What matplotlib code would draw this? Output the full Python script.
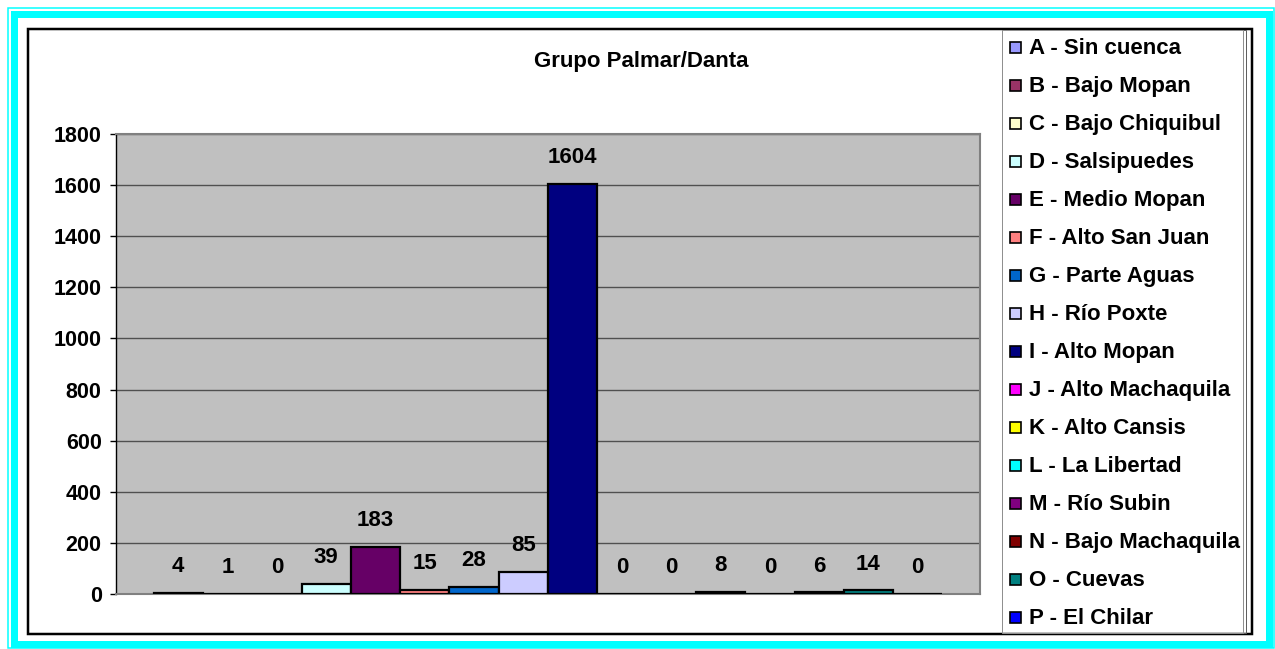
import matplotlib
matplotlib.use("Agg")
import matplotlib.pyplot as plt
from matplotlib.patches import Rectangle

plt.rcParams['font.family'] = ['Liberation Sans', 'DejaVu Sans']

# Data
title = "Grupo Palmar/Danta"
series_names = [
    "A - Sin cuenca", "B - Bajo Mopan", "C - Bajo Chiquibul", "D - Salsipuedes",
    "E - Medio Mopan", "F - Alto San Juan", "G - Parte Aguas", "H - Río Poxte",
    "I - Alto Mopan", "J - Alto Machaquila", "K - Alto Cansis", "L - La Libertad",
    "M - Río Subin", "N - Bajo Machaquila", "O - Cuevas", "P - El Chilar",
]
values = [4, 1, 0, 39, 183, 15, 28, 85, 1604, 0, 0, 8, 0, 6, 14, 0]
colors = [
    "#9999FF", "#993366", "#FFFFCC", "#CCFFFF", "#660066", "#FF8080",
    "#0066CC", "#CCCCFF", "#000080", "#FF00FF", "#FFFF00", "#00FFFF",
    "#800080", "#800000", "#008080", "#0000FF",
]
y_ticks = list(range(0, 1801, 200))

W, H = 1275, 649
fig = plt.figure(figsize=(W / 100, H / 100), dpi=100)
fig.patch.set_facecolor("white")


def fx(px):
    return px / W


def fy(py):
    return 1 - py / H


def frame(x0, y0, x1, y1, color, lw_px, z=0):
    r = Rectangle((fx(x0), fy(y1)), fx(x1) - fx(x0), fy(y0) - fy(y1),
                  transform=fig.transFigure, fill=False, edgecolor=color,
                  linewidth=lw_px * 0.72, zorder=z)
    fig.patches.append(r)


# Decorative page border and chart-area frame
frame(7.5, 7.5, 1273.5, 647.5, "#00FFFF", 1.5)
frame(13.5, 13.5, 1268.5, 643.5, "#00FFFF", 7)
frame(27.5, 28.5, 1251.5, 633.5, "black", 2.5)

# Legend frame
frame(1002, 29.5, 1246, 633, "#606060", 1)
frame(1002, 29.5, 1243, 633, "#909090", 1)

# Plot area
left, right, top, bottom = 116, 980, 134, 594
ax = fig.add_axes([fx(left), fy(bottom), fx(right) - fx(left), fy(top) - fy(bottom)])
ax.set_facecolor("#C0C0C0")

n = len(values)
bar_w = 49.3 / (right - left)
xs = [(i - (n - 1) / 2) * bar_w for i in range(n)]
ax.bar(xs, values, width=bar_w, color=colors, edgecolor="black",
       linewidth=1.6, zorder=3)

for x, v in zip(xs, values):
    ax.annotate(str(v), (x, v), xytext=(0, 19), textcoords="offset points",
                ha="center", va="center", fontsize=16, fontweight="bold",
                zorder=5)

ax.set_xlim(-0.5, 0.5)
ax.set_ylim(0, 1800)
ax.set_yticks(y_ticks)
ax.set_yticklabels([str(t) for t in y_ticks], fontsize=15.5, fontweight="bold")
ax.set_xticks([])
ax.tick_params(axis="y", direction="out", length=4.3, width=1, pad=6, color="black")
ax.grid(axis="y", color="#505050", linewidth=1.0, zorder=1)
ax.set_axisbelow(True)
ax.spines["left"].set_color("black")
ax.spines["left"].set_linewidth(1.0)
for s in ("top", "right", "bottom"):
    ax.spines[s].set_color("#808080")
    ax.spines[s].set_linewidth(1.5)

fig.text(fx(641), fy(62), title, ha="center", va="center",
         fontsize=16, fontweight="bold")

# Legend entries
for i, (name, c) in enumerate(zip(series_names, colors)):
    yc = 47 + 38 * i
    sq = Rectangle((fx(1009.5), fy(yc + 5.5)), fx(11), 11 / H,
                   transform=fig.transFigure, facecolor=c, edgecolor="black",
                   linewidth=1.2, zorder=3)
    fig.patches.append(sq)
    fig.text(fx(1029), fy(yc + 1.5), name, ha="left", va="center",
             fontsize=16, fontweight="bold")

fig.savefig("out.png", dpi=100)
